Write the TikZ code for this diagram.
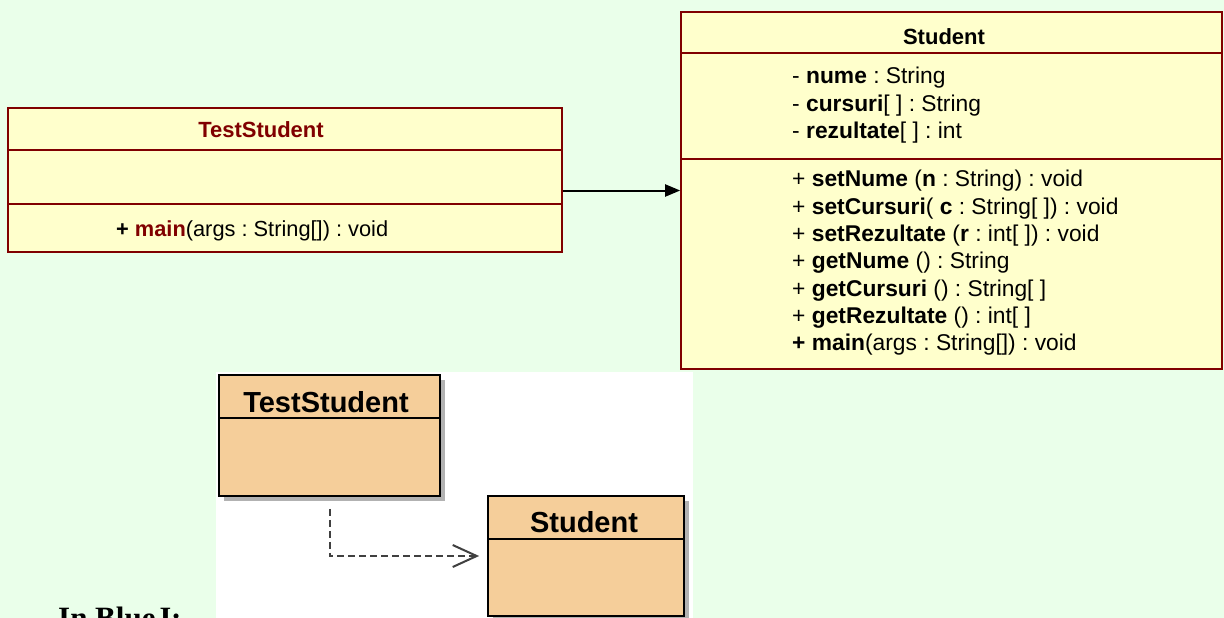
\documentclass[tikz,border=0pt]{standalone}
\usepackage{fontspec}
\setmainfont{Liberation Sans}
\newfontfamily\captionserif{Liberation Serif}
\usetikzlibrary{arrows.meta,positioning}
\frenchspacing

\definecolor{bggreen}{HTML}{EAFFEA}
\definecolor{boxyellow}{HTML}{FFFFCC}
\definecolor{umlred}{HTML}{800000}
\definecolor{bluejtan}{HTML}{F5CE9A}

\begin{document}
\begin{tikzpicture}[x=1pt,y=-1pt,
  umlbox/.style={draw=umlred,fill=boxyellow,line width=1.6pt,inner sep=0pt},
  umlline/.style={draw=umlred,line width=1.6pt},
  umltitle/.style={inner sep=0pt,font=\fontsize{22}{27}\selectfont\bfseries},
  member/.style={anchor=base west,inner sep=0pt,font=\fontsize{22.8}{27}\selectfont},
  bjbox/.style={draw=black,fill=bluejtan,line width=1.8pt,inner sep=0pt},
  bjtitle/.style={inner sep=0pt,font=\fontsize{29}{34}\selectfont\bfseries}]
% Background
\useasboundingbox (0,0) rectangle (1224,618);
\fill[bggreen] (0,0) rectangle (1224,618);

% TestStudent class
\node[umlbox,minimum width=554pt,minimum height=144pt] (test) at (285,180) {};
\draw[umlline] (test.west |- 0,150) -- (test.east |- 0,150);
\draw[umlline] (test.west |- 0,204) -- (test.east |- 0,204);
\node[umltitle,text=umlred] (testname) at (261,130) {TestStudent};
\node[member,font=\fontsize{21.8}{27}\selectfont] (testmain) at (116,236) {\textbf{+ \textcolor{umlred}{main}}(args : String[]) : void};

% Student class
\node[umlbox,minimum width=541pt,minimum height=357pt] (stud) at (951.5,190.5) {};
\draw[umlline] (stud.west |- 0,53) -- (stud.east |- 0,53);
\draw[umlline] (stud.west |- 0,159) -- (stud.east |- 0,159);
\node[umltitle] (studname) at (944,37) {Student};
\foreach \txt [count=\i] in {{- \textbf{nume} : String},
    {- \textbf{cursuri}[ ] : String},
    {- \textbf{rezultate}[ ] : int}} {
  \node[member] (attr\i) at (792,{56+27.5*\i}) {\txt};
}
\foreach \txt [count=\i] in {{+ \textbf{setNume} (\textbf{n} : String) : void},
    {+ \textbf{setCursuri}( \textbf{c} : String[ ]) : void},
    {+ \textbf{setRezultate} (\textbf{r} : int[ ]) : void},
    {+ \textbf{getNume} () : String},
    {+ \textbf{getCursuri} () : String[ ]},
    {+ \textbf{getRezultate} () : int[ ]},
    {\textbf{+ main}(args : String[]) : void}} {
  \node[member] (meth\i) at (792,{159.5+27.3*\i}) {\txt};
}

% Association
\draw[line width=2pt,-{Triangle[length=15pt,width=12pt]}] (test.east |- stud.west) -- (stud.west);

% BlueJ view
\fill[white] (216,372) rectangle (693,618);
\fill[black!30] (224,380) rectangle (445,501);
\node[bjbox,minimum width=221pt,minimum height=121pt] (bjtest) at (329.5,435.5) {};
\draw[line width=1.8pt] (bjtest.west |- 0,418) -- (bjtest.east |- 0,418);
\node[bjtitle,anchor=base] (bjtestname) at (326,412) {TestStudent};
\fill[black!30] (493,501) rectangle (689,621);
\node[bjbox,minimum width=196pt,minimum height=120pt] (bjstud) at (586,556) {};
\draw[line width=1.8pt] (bjstud.west |- 0,539) -- (bjstud.east |- 0,539);
\node[bjtitle,anchor=base] (bjstudname) at (584,532) {Student};
\draw[black!75,line width=2pt,dash pattern=on 7pt off 4pt,-{Straight Barb[length=24pt,width=22pt,line width=2pt]}]
  ([yshift=-12pt]bjtest.south) |- ([xshift=-8pt]bjstud.west);

% Caption
\node[anchor=north west,inner sep=0pt,font=\captionserif\fontsize{31}{36}\selectfont\bfseries] (caption) at (58,607) {In BlueJ:};
\end{tikzpicture}
\end{document}
